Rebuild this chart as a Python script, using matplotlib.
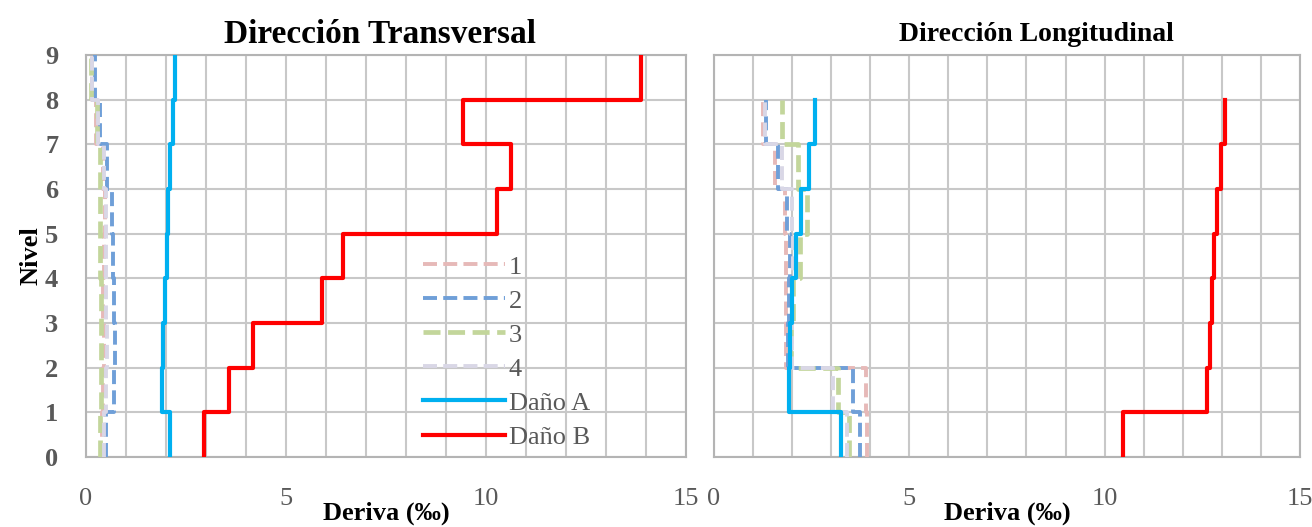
import numpy as np
import matplotlib
matplotlib.use("Agg")
import matplotlib.pyplot as plt

plt.rcParams['font.family'] = ['Liberation Serif', 'DejaVu Serif']

# drift per storey (storey i spans level i -> i+1)
niv_t = np.arange(10)
t_1 = [0.40, 0.42, 0.44, 0.42, 0.44, 0.48, 0.42, 0.26, 0.15]
t_2 = [0.50, 0.69, 0.72, 0.69, 0.67, 0.65, 0.52, 0.36, 0.22]
t_3 = [0.36, 0.38, 0.38, 0.38, 0.36, 0.36, 0.34, 0.28, 0.12]
t_4 = [0.44, 0.50, 0.52, 0.50, 0.50, 0.50, 0.44, 0.30, 0.16]
t_a = [2.10, 1.89, 1.92, 1.98, 2.03, 2.04, 2.10, 2.18, 2.23]
t_b = [2.95, 3.57, 4.17, 5.90, 6.42, 10.27, 10.62, 9.42, 13.87]

niv_l = np.arange(9)
l_1 = [3.92, 3.89, 1.84, 1.84, 1.84, 1.82, 1.56, 1.26]
l_2 = [3.74, 3.57, 1.90, 1.92, 1.95, 1.86, 1.65, 1.33]
l_3 = [3.46, 3.18, 1.97, 2.03, 2.20, 2.37, 2.16, 1.73]
l_4 = [3.40, 3.04, 1.99, 1.99, 2.03, 1.99, 1.73, 1.31]
l_a = [3.24, 1.93, 1.95, 1.99, 2.10, 2.24, 2.44, 2.58]
l_b = [10.46, 12.61, 12.69, 12.76, 12.81, 12.87, 12.99, 13.07]

labels = ['1', '2', '3', '4', 'Daño A', 'Daño B']
colors = ['#E6B9B8', '#6F9FD8', '#C3D69B', '#D9D7E6', '#00B0F0', '#FF0000']
gray = '#595959'


def steps(d, niv):
    # vertical step profile: x repeats, y goes level to level
    return np.repeat(d, 2), np.repeat(niv, 2)[1:-1]


def draw(ax, series, niv):
    for i, d in enumerate(series):
        x, y = steps(d, niv)
        if i < 4:
            lw = 3.4 if i == 2 else 2.8
            ax.plot(x, y, color=colors[i], lw=lw, dashes=(3.6, 1.6),
                    label=labels[i], zorder=3)
        else:
            ax.plot(x, y, color=colors[i], lw=3.0, label=labels[i],
                    zorder=4 if i == 5 else 5)
    ax.set_xlim(0, 15)
    ax.set_ylim(0, 9)
    ax.set_xticks([0, 5, 10, 15])
    ax.set_xticks(range(16), minor=True)
    ax.set_yticks(range(10))
    ax.grid(which='both', color='#C8C8C8', lw=1.5, zorder=0)
    ax.set_axisbelow(True)
    for s in ax.spines.values():
        s.set_color('#B4B4B4')
        s.set_linewidth(1.5)
    ax.tick_params(which='both', length=0)
    ax.tick_params(axis='x', pad=22, labelsize=19, labelcolor=gray)
    ax.set_xlabel('Deriva (‰)', fontsize=19, fontweight='bold', labelpad=-6)


fig = plt.figure(figsize=(13.12, 5.27), dpi=100)
ax1 = fig.add_axes([0.0655, 0.1328, 0.4573, 0.7628])
ax2 = fig.add_axes([0.5442, 0.1328, 0.4466, 0.7628])

draw(ax1, [t_1, t_2, t_3, t_4, t_a, t_b], niv_t)
draw(ax2, [l_1, l_2, l_3, l_4, l_a, l_b], niv_l)

ax1.tick_params(axis='y', pad=20, labelsize=19, labelcolor=gray)
for t in ax1.get_yticklabels():
    t.set_fontweight('bold')
ax1.set_ylabel('Nivel', fontsize=19, fontweight='bold', labelpad=2)
ax2.set_yticklabels([])

ax1.set_title('Dirección Transversal', fontsize=24, fontweight='bold',
              x=0.49, pad=9)
ax2.set_title('Dirección Longitudinal', fontsize=20, fontweight='bold',
              x=0.551, pad=10)

ax1.legend(loc='upper left', bbox_to_anchor=(0.54, 0.535), frameon=False,
           fontsize=19, labelcolor=gray, handlelength=3.1,
           handletextpad=0.15, labelspacing=0.4, borderpad=0)

fig.savefig('out.png', dpi=100)
